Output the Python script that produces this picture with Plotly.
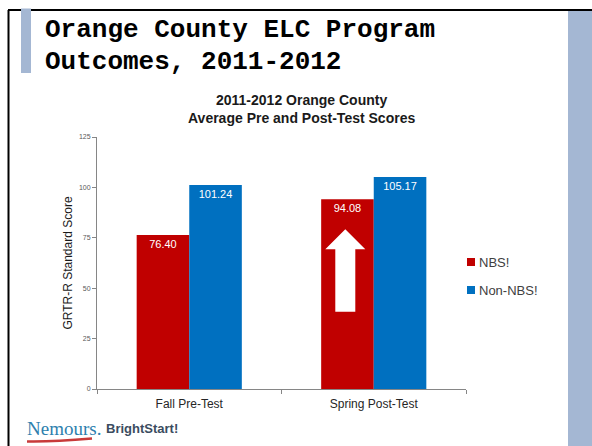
import plotly.graph_objects as go

# ---- data -------------------------------------------------------------
categories = ["Fall Pre-Test", "Spring Post-Test"]
series_names = ["NBS!", "Non-NBS!"]
nbs_scores = [76.40, 94.08]
non_nbs_scores = [101.24, 105.17]
y_ticks = [0, 25, 50, 75, 100, 125]

# ---- page geometry (pixels) -------------------------------------------
W, H = 592, 446
L, R, T, B = 97, 466, 137, 389  # plot area edges


def fx(x):
    return (x - L) / (R - L)


def fy(y):
    return (B - y) / (B - T)


SANS = "Liberation Sans, Arial, sans-serif"
RED = "#C00000"
BLUE = "#0070C0"
SLATE = "#A4B7D3"

fig = go.Figure()
for name, vals, color in [(series_names[0], nbs_scores, RED),
                          (series_names[1], non_nbs_scores, BLUE)]:
    fig.add_trace(go.Bar(
        name=name, x=categories, y=vals,
        marker=dict(color=color, line=dict(width=0)),
        texttemplate="%{y:.2f}", textposition="inside",
        insidetextanchor="end", textangle=0,
        textfont=dict(color="white", size=11, family=SANS),
        showlegend=False,
    ))

shapes = []
# slide frame
shapes.append(dict(type="rect", xref="paper", yref="paper",
                   x0=fx(568), x1=fx(592), y0=fy(11), y1=fy(446),
                   fillcolor=SLATE, line=dict(width=0), layer="below"))
shapes.append(dict(type="line", xref="paper", yref="paper",
                   x0=fx(8), x1=fx(592), y0=fy(10), y1=fy(10),
                   line=dict(color="black", width=2)))
shapes.append(dict(type="line", xref="paper", yref="paper",
                   x0=fx(8.5), x1=fx(8.5), y0=fy(10), y1=fy(446),
                   line=dict(color="black", width=2)))
shapes.append(dict(type="rect", xref="paper", yref="paper",
                   x0=fx(21), x1=fx(31), y0=fy(8.5), y1=fy(73),
                   fillcolor=SLATE, line=dict(width=0)))

# white "growth" arrow over the spring NBS! bar
arrow_pts = [(345.3, 229.3), (365.3, 249.3), (355.3, 249.3), (355.3, 311.7),
             (335.3, 311.7), (335.3, 249.3), (325.3, 249.3)]
path = "M" + " L".join(f"{fx(a):.5f},{fy(b):.5f}" for a, b in arrow_pts) + " Z"
shapes.append(dict(type="path", xref="paper", yref="paper", path=path,
                   fillcolor="white", line=dict(width=0), layer="above"))

# legend swatches
legend_rows = [(series_names[0], RED, 262), (series_names[1], BLUE, 290)]
for _, color, cy in legend_rows:
    shapes.append(dict(type="rect", xref="paper", yref="paper",
                       x0=fx(467), x1=fx(475), y0=fy(cy - 4), y1=fy(cy + 4),
                       fillcolor=color, line=dict(width=0)))

# logo swoosh
shapes.append(dict(type="path", xref="paper", yref="paper",
                   path=(f"M{fx(27):.5f},{fy(441.5):.5f} "
                         f"Q{fx(52):.5f},{fy(442):.5f} {fx(92):.5f},{fy(438.5):.5f}"),
                   line=dict(color="#C83A3A", width=2.5)))

annotations = []
TITLE_FONT = dict(family="Liberation Mono, DejaVu Sans Mono, monospace", size=26, color="black")
annotations.append(dict(xref="paper", yref="paper", x=fx(43), y=fy(30),
                        xanchor="left", yanchor="middle", showarrow=False,
                        text="<b>Orange County ELC Program</b>", font=TITLE_FONT))
annotations.append(dict(xref="paper", yref="paper", x=fx(43), y=fy(62.5),
                        xanchor="left", yanchor="middle", showarrow=False,
                        text="<b>Outcomes, 2011-2012</b>", font=TITLE_FONT))

# chart title
annotations.append(dict(xref="paper", yref="paper", x=fx(301), y=fy(109),
                        xanchor="center", yanchor="middle", showarrow=False,
                        text="<b>2011-2012 Orange County<br>Average Pre and Post-Test Scores</b>",
                        font=dict(family=SANS, size=14, color="#1a1a1a")))

# legend labels
for label, _, cy in legend_rows:
    annotations.append(dict(xref="paper", yref="paper", x=fx(477), y=fy(cy),
                            xanchor="left", yanchor="middle", showarrow=False,
                            text=label, font=dict(family=SANS, size=13, color="#404040")))

# logo text
annotations.append(dict(xref="paper", yref="paper", x=fx(25), y=fy(428.5),
                        xanchor="left", yanchor="middle", showarrow=False,
                        text="Nemours.",
                        font=dict(family="Liberation Serif, Times New Roman, serif", size=19, color="#2E7FAE")))
annotations.append(dict(xref="paper", yref="paper", x=fx(104), y=fy(429),
                        xanchor="left", yanchor="middle", showarrow=False,
                        text="<b>BrightStart!</b>",
                        font=dict(family=SANS, size=13, color="#3B4C60")))

fig.update_layout(
    width=W, height=H, autosize=False,
    margin=dict(l=L, r=W - R, t=T, b=H - B, pad=0),
    paper_bgcolor="white", plot_bgcolor="white",
    barmode="group", bargap=0.43, bargroupgap=0,
    showlegend=False,
    shapes=shapes, annotations=annotations,
    xaxis=dict(type="category", range=[-0.5, 1.5], showgrid=False,
               showline=True, linecolor="#868686", linewidth=1,
               ticks="outside", tickson="boundaries", ticklen=4,
               tickcolor="#868686", ticklabelstandoff=4,
               tickfont=dict(family=SANS, size=12, color="#262626")),
    yaxis=dict(range=[0, 125], tickvals=y_ticks, showgrid=False,
               zeroline=False, showline=True, linecolor="#868686",
               linewidth=1, ticks="outside", ticklen=4, tickcolor="#868686",
               tickfont=dict(family=SANS, size=7, color="#595959"),
               title=dict(text="GRTR-R Standard Score", standoff=3,
                          font=dict(family=SANS, size=12, color="#1a1a1a"))),
)

fig.write_html("out.html")
